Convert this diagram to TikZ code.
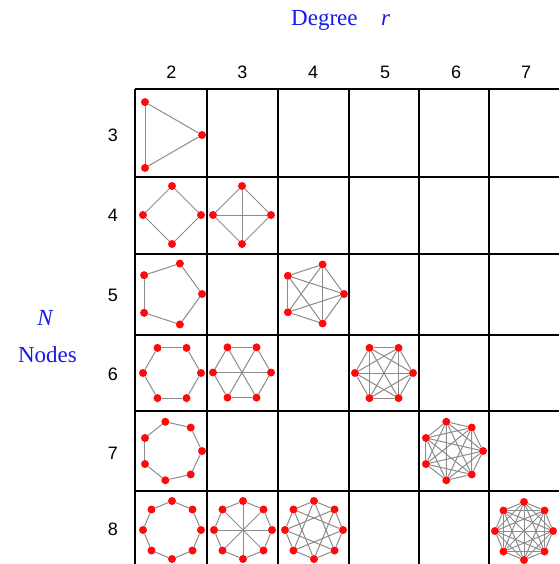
\documentclass[tikz,border=0pt]{standalone}
\usepackage{fontspec}
\setmainfont{Liberation Serif}
\newfontfamily\digitfont{Liberation Sans}
\definecolor{lblblue}{RGB}{25,25,235}
\definecolor{edgegray}{RGB}{140,140,140}
\definecolor{vtxred}{RGB}{255,10,10}
\newcommand{\regraph}[7]{%
  \foreach \vk in {1,...,#5}{%
    \pgfmathsetmacro\vang{#6+360*(\vk-1)/#5}%
    \node[vtx] (#1-\vk) at ([shift={(\vang:#4)}]#2,#3) {};
  }%
  \foreach \vs in {#7}{%
    \foreach \vk in {1,...,#5}{%
      \pgfmathtruncatemacro\vj{mod(\vk-1+\vs,#5)+1}%
      \pgfmathtruncatemacro\vdup{(2*\vs==#5)&&(\vk>#5/2)}%
      \ifnum\vdup=0 \draw[gedge] (#1-\vk) -- (#1-\vj);\fi
    }%
  }%
}
\begin{document}
\begin{tikzpicture}[x=1pt,y=-1pt,
  vtx/.style={circle,fill=vtxred,draw=none,inner sep=0pt,minimum size=8pt},
  gedge/.style={draw=edgegray,line width=1pt},
  gridline/.style={draw=black,line width=1.5pt},
  bluelbl/.style={text=lblblue,font=\fontsize{23}{28}\selectfont,inner sep=0pt},
  numlbl/.style={text=black,font=\digitfont\fontsize{18}{20}\selectfont,inner sep=0pt,anchor=base}]
\fill[white] (0,0) rectangle (559,564);
\useasboundingbox (0,0) rectangle (559,564);
% grid
\foreach \gx in {135,207,278,349,419,489}{\draw[gridline] (\gx,89) -- (\gx,564);}
\foreach \gy in {89,177,254,335,411,491}{\draw[gridline] (135,\gy) -- (559,\gy);}
% titles
\node[bluelbl,anchor=base west] (deg) at (291,26) {Degree};
\node[bluelbl,anchor=base west] (degr) at (381,26) {\itshape r};
\node[bluelbl,anchor=base] (nn) at (45,325) {\itshape N};
\node[bluelbl,anchor=base] (nodes) at (47.5,362) {Nodes};
% column labels
\node[numlbl] (c2) at (171.5,79) {2};
\node[numlbl] (c3) at (242.5,79) {3};
\node[numlbl] (c4) at (313,79) {4};
\node[numlbl] (c5) at (385,79) {5};
\node[numlbl] (c6) at (456,79) {6};
\node[numlbl] (c7) at (526,79) {7};
% row labels
\node[numlbl] (r3) at (113,142) {3};
\node[numlbl] (r4) at (113,221) {4};
\node[numlbl] (r5) at (113,301) {5};
\node[numlbl] (r6) at (113,380) {6};
\node[numlbl] (r7) at (113,459) {7};
\node[numlbl] (r8) at (113,535) {8};
% graphs
\regraph{g32}{164}{135}{38}{3}{0}{1}
\regraph{g42}{172}{215}{29}{4}{0}{1}
\regraph{g43}{242}{215}{29}{4}{0}{1,2}
\regraph{g52}{170}{294}{32}{5}{0}{1}
\regraph{g54}{313}{294}{31}{5}{0}{1,2}
\regraph{g62}{172}{373}{29}{6}{0}{1}
\regraph{g63}{242}{372.5}{29}{6}{0}{1,3}
\regraph{g65}{384}{373}{29}{6}{0}{1,2,3}
\regraph{g72}{172}{451}{30}{7}{0}{1}
\regraph{g76}{453}{451}{30}{7}{0}{1,2,3}
\regraph{g82}{172}{530}{29}{8}{0}{1}
\regraph{g83}{243}{530}{29}{8}{0}{1,4}
\regraph{g84}{314}{530}{29}{8}{0}{1,3}
\regraph{g87}{524}{531}{29}{8}{0}{1,2,3,4}
\end{tikzpicture}
\end{document}
